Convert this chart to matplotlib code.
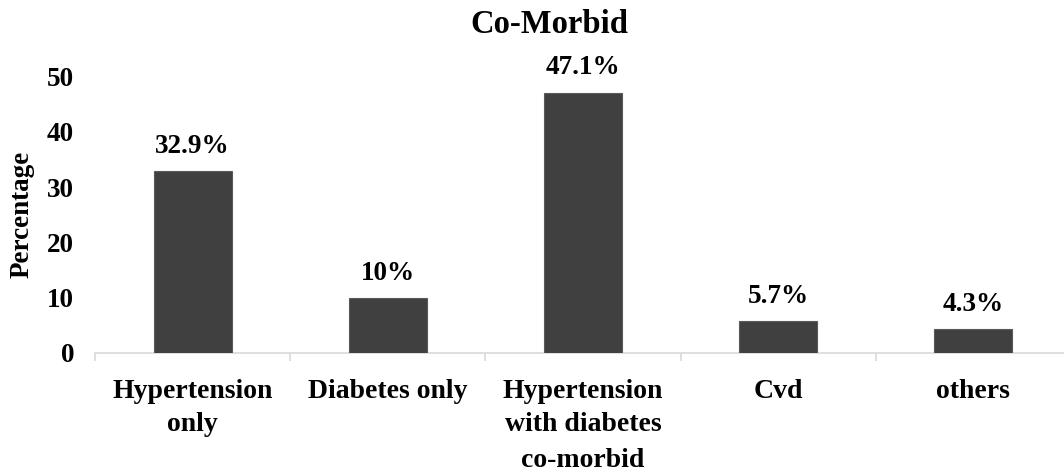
import matplotlib
matplotlib.use("Agg")
import matplotlib.pyplot as plt
import numpy as np

# Co-morbidity breakdown
categories = ["Hypertension\nonly", "Diabetes only", "Hypertension\nwith diabetes", "Cvd", "others"]
percentages = [32.9, 10, 47.1, 5.7, 4.3]
value_labels = ["32.9%", "10%", "47.1%", "5.7%", "4.3%"]
y_ticks = [0, 10, 20, 30, 40, 50]

plt.rcParams["font.family"] = ["Liberation Serif", "DejaVu Serif"]
plt.rcParams["font.weight"] = "bold"

W, H = 1064, 472
fig = plt.figure(figsize=(W / 100, H / 100), dpi=100)
ax = fig.add_axes([95 / W, 1 - 353 / H, 976 / W, (353 - 76.5) / H])

x = np.arange(len(categories))
ax.bar(x, percentages, width=0.4, color="#404040", edgecolor="#5a5a5a",
       linewidth=0.8, zorder=3)
ax.set_xlim(-0.5, len(categories) - 0.5)
ax.set_ylim(0, 50)

for xi, v, lab in zip(x, percentages, value_labels):
    ax.annotate(lab, (xi, v), xytext=(0, 13), textcoords="offset points",
                ha="center", va="baseline", fontsize=19.5, fontweight="bold",
                annotation_clip=False)

# spines
for side in ("top", "right", "left"):
    ax.spines[side].set_visible(False)
ax.spines["bottom"].set_color("#d9d9d9")
ax.spines["bottom"].set_linewidth(1.2)

# y axis
ax.set_yticks(y_ticks)
ax.tick_params(axis="y", length=0, pad=15, labelsize=19.5)
ax.set_ylabel("Percentage", fontsize=19.5, fontweight="bold")
ax.yaxis.set_label_coords(-0.0615, 0.5)

# x axis: labels at category centres, separator marks between categories
ax.set_xticks(x)
ax.set_xticklabels(categories, fontsize=20, fontweight="bold", linespacing=1.4)
ax.set_xticks(np.arange(-0.5, len(categories)), minor=True)
ax.tick_params(axis="x", which="major", length=0, pad=19)
ax.tick_params(axis="x", which="minor", length=6, width=1.2, color="#d9d9d9", direction="out")
ax.set_xlabel("co-morbid", fontsize=20, fontweight="bold", labelpad=8)

fig.text(549 / W, 1 - 33 / H, "Co-Morbid", ha="center", va="baseline",
         fontsize=23.5, fontweight="bold")

fig.savefig("out.png", dpi=100)
